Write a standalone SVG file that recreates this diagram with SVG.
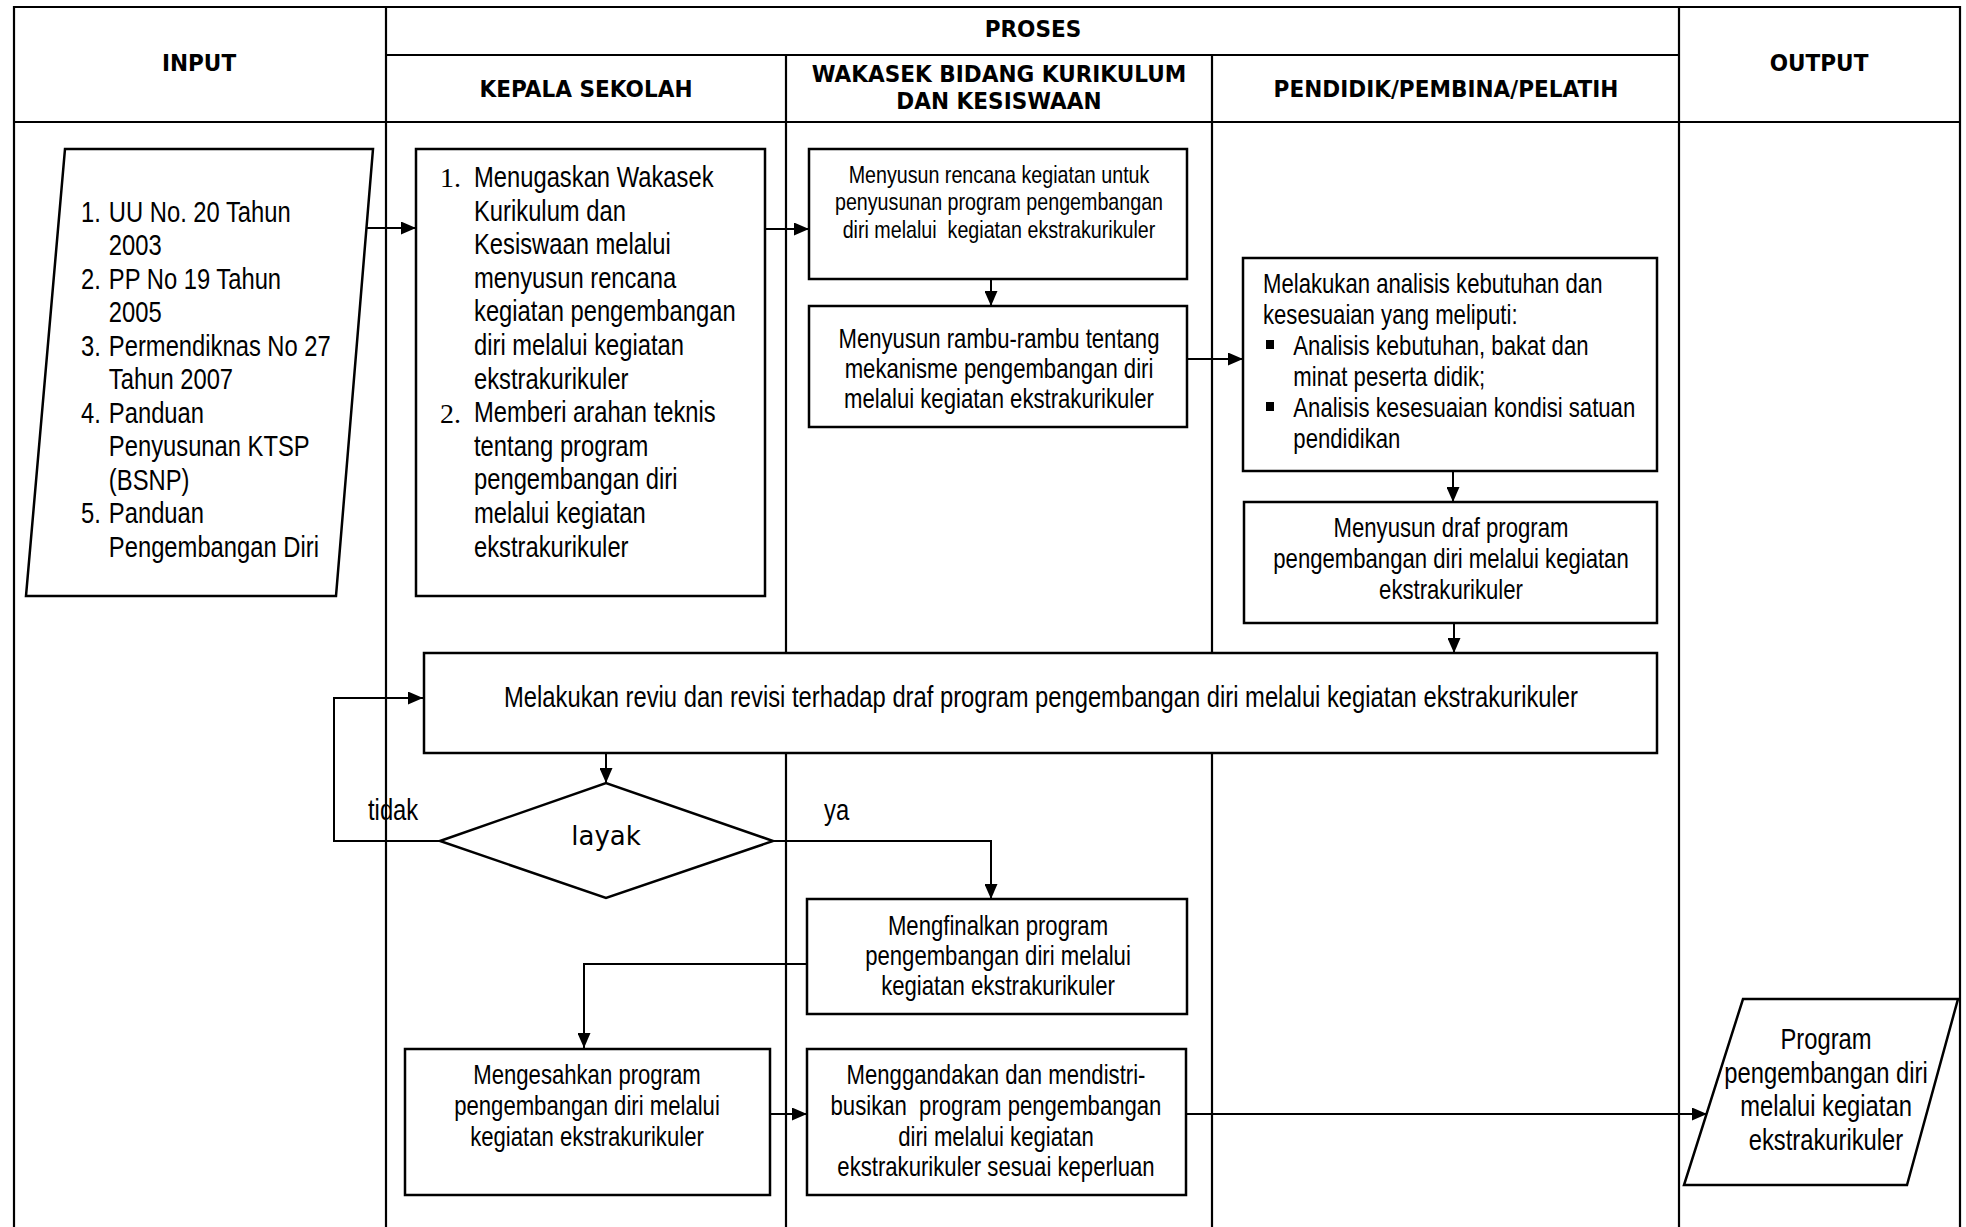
<svg xmlns="http://www.w3.org/2000/svg" width="1966" height="1227" viewBox="0 0 1966 1227">
<style>
.n{font-family:"Liberation Sans",Arial,sans-serif;fill:#000}
.c{text-anchor:middle}
.pre{white-space:pre}
.f29{font-size:29px}.f27{font-size:27px}.f24{font-size:24px}
.h{font-family:"DejaVu Sans",Verdana,sans-serif;font-weight:bold;font-size:23.5px;text-anchor:middle;fill:#000}
.num{font-family:"Liberation Serif","Times New Roman",serif;font-size:28px;fill:#000}
.box{fill:#fff;stroke:#000;stroke-width:2.5}
.tl{stroke:#000;stroke-width:2.2;fill:none}
.conn{stroke:#000;stroke-width:2;fill:none}
</style>
<defs>
<marker id="ah" viewBox="0 0 15 13" refX="15" refY="6.5" markerWidth="15" markerHeight="13" orient="auto" markerUnits="userSpaceOnUse"><path d="M0,0 L15,6.5 L0,13 z" fill="#000"/></marker>
</defs>
<rect width="1966" height="1227" fill="#fff"/>
<g id="table">
<line class="tl" x1="14" y1="7" x2="1960" y2="7" stroke-width="2.5"/>
<line class="tl" x1="14" y1="6" x2="14" y2="1227" stroke-width="2.5"/>
<line class="tl" x1="1960" y1="6" x2="1960" y2="1227" stroke-width="2.5"/>
<line class="tl" x1="386" y1="7" x2="386" y2="1227"/>
<line class="tl" x1="1679" y1="7" x2="1679" y2="1227"/>
<line class="tl" x1="786" y1="55" x2="786" y2="1227"/>
<line class="tl" x1="1212" y1="55" x2="1212" y2="1227"/>
<line class="tl" x1="386" y1="55" x2="1679" y2="55" stroke-width="2.5"/>
<line class="tl" x1="14" y1="122" x2="1960" y2="122" stroke-width="5"/>
<g transform="translate(1033,0) scale(0.92,1)"><text class="h" x="0" y="37">PROSES</text></g>
<g transform="translate(199,0) scale(0.92,1)"><text class="h" x="0" y="71">INPUT</text></g>
<g transform="translate(1819,0) scale(0.92,1)"><text class="h" x="0" y="71">OUTPUT</text></g>
<g transform="translate(586,0) scale(0.92,1)"><text class="h" x="0" y="97">KEPALA SEKOLAH</text></g>
<g transform="translate(999,0) scale(0.92,1)"><text class="h" x="0" y="82">WAKASEK BIDANG KURIKULUM</text>
<text class="h" x="0" y="109">DAN KESISWAAN</text></g>
<g transform="translate(1446,0) scale(0.92,1)"><text class="h" x="0" y="97">PENDIDIK/PEMBINA/PELATIH</text></g>
</g>
<g id="connectors">
<line class="conn" x1="366" y1="228" x2="416" y2="228" marker-end="url(#ah)"/>
<line class="conn" x1="765" y1="229" x2="809" y2="229" marker-end="url(#ah)"/>
<line class="conn" x1="991" y1="279" x2="991" y2="306" marker-end="url(#ah)"/>
<line class="conn" x1="1187" y1="359" x2="1243" y2="359" marker-end="url(#ah)"/>
<line class="conn" x1="1453" y1="471" x2="1453" y2="502" marker-end="url(#ah)"/>
<line class="conn" x1="1454" y1="623" x2="1454" y2="653" marker-end="url(#ah)"/>
<line class="conn" x1="606" y1="753" x2="606" y2="783" marker-end="url(#ah)"/>
<polyline class="conn" points="440,841 334,841 334,698 423,698" marker-end="url(#ah)"/>
<polyline class="conn" points="773,841 991,841 991,899" marker-end="url(#ah)"/>
<polyline class="conn" points="806,964 584,964 584,1048" marker-end="url(#ah)"/>
<line class="conn" x1="770" y1="1114" x2="807" y2="1114" marker-end="url(#ah)"/>
<line class="conn" x1="1186" y1="1114" x2="1707" y2="1114" marker-end="url(#ah)"/>
<g transform="translate(368,0) scale(0.82,1)"><text class="n f29" x="0" y="820">tidak</text></g>
<g transform="translate(824,0) scale(0.82,1)"><text class="n f29" x="0" y="820">ya</text></g>
</g>
<g id="input">
<polygon class="box" stroke-width="2" points="65,149 373,149 336,596 26,596"/>
<g transform="translate(81,0) scale(0.82,1)" class="n f29">
<text x="0" y="222">1.</text><text x="34" y="222">UU No. 20 Tahun</text>
<text x="34" y="255.5">2003</text>
<text x="0" y="289">2.</text><text x="34" y="289">PP No 19 Tahun</text>
<text x="34" y="322.5">2005</text>
<text x="0" y="356">3.</text><text x="34" y="356">Permendiknas No 27</text>
<text x="34" y="389.5">Tahun 2007</text>
<text x="0" y="423">4.</text><text x="34" y="423">Panduan</text>
<text x="34" y="456.5">Penyusunan KTSP</text>
<text x="34" y="490">(BSNP)</text>
<text x="0" y="523.5">5.</text><text x="34" y="523.5">Panduan</text>
<text x="34" y="557">Pengembangan Diri</text>
</g>
</g>
<g id="kepala">
<rect class="box" x="416" y="149" width="349" height="447"/>
<text class="num" x="440" y="187">1.</text>
<text class="num" x="440" y="423">2.</text>
<g transform="translate(474,0) scale(0.82,1)" class="n f29">
<text x="0" y="187">Menugaskan Wakasek</text>
<text x="0" y="220.6">Kurikulum dan</text>
<text x="0" y="254.2">Kesiswaan melalui</text>
<text x="0" y="287.8">menyusun rencana</text>
<text x="0" y="321.4">kegiatan pengembangan</text>
<text x="0" y="355">diri melalui kegiatan</text>
<text x="0" y="388.6">ekstrakurikuler</text>
<text x="0" y="422.2">Memberi arahan teknis</text>
<text x="0" y="455.8">tentang program</text>
<text x="0" y="489.4">pengembangan diri</text>
<text x="0" y="523">melalui kegiatan</text>
<text x="0" y="556.6">ekstrakurikuler</text>
</g>
</g>
<g id="wakasek1">
<rect class="box" x="809" y="149" width="378" height="130"/>
<g transform="translate(999,0) scale(0.82,1)" class="n f24 c">
<text x="0" y="183">Menyusun rencana kegiatan untuk</text>
<text x="0" y="210.5">penyusunan program pengembangan</text>
<text class="pre" x="0" y="238">diri melalui  kegiatan ekstrakurikuler</text>
</g>
</g>
<g id="wakasek2">
<rect class="box" x="809" y="306" width="378" height="121"/>
<g transform="translate(999,0) scale(0.82,1)" class="n f27 c">
<text x="0" y="348">Menyusun rambu-rambu tentang</text>
<text x="0" y="378">mekanisme pengembangan diri</text>
<text x="0" y="408">melalui kegiatan ekstrakurikuler</text>
</g>
</g>
<g id="pendidik1">
<rect class="box" x="1243" y="258" width="414" height="213"/>
<rect x="1266" y="340" width="8" height="9" fill="#000"/>
<rect x="1266" y="402" width="8" height="9" fill="#000"/>
<g transform="translate(1263,0) scale(0.82,1)" class="n f27">
<text x="0" y="293">Melakukan analisis kebutuhan dan</text>
<text x="0" y="324">kesesuaian yang meliputi:</text>
<text x="37" y="355">Analisis kebutuhan, bakat dan</text>
<text x="37" y="386">minat peserta didik;</text>
<text x="37" y="417">Analisis kesesuaian kondisi satuan</text>
<text x="37" y="448">pendidikan</text>
</g>
</g>
<g id="pendidik2">
<rect class="box" x="1244" y="502" width="413" height="121"/>
<g transform="translate(1451,0) scale(0.82,1)" class="n f27 c">
<text x="0" y="537">Menyusun draf program</text>
<text x="0" y="568">pengembangan diri melalui kegiatan</text>
<text x="0" y="599">ekstrakurikuler</text>
</g>
</g>
<g id="reviu">
<rect class="box" x="424" y="653" width="1233" height="100"/>
<g transform="translate(1041,0) scale(0.82,1)" class="n f29 c">
<text x="0" y="707">Melakukan reviu dan revisi terhadap draf program pengembangan diri melalui kegiatan ekstrakurikuler</text>
</g>
</g>
<g id="layak">
<polygon class="box" stroke-width="2" points="440,841 606,783 773,841 606,898"/>
<text x="606" y="845" font-family="'DejaVu Sans',Verdana,sans-serif" font-size="26" text-anchor="middle">layak</text>
</g>
<g id="mengfinalkan">
<rect class="box" x="807" y="899" width="380" height="115"/>
<g transform="translate(998,0) scale(0.82,1)" class="n f27 c">
<text x="0" y="935">Mengfinalkan program</text>
<text x="0" y="965">pengembangan diri melalui</text>
<text x="0" y="995">kegiatan ekstrakurikuler</text>
</g>
</g>
<g id="mengesahkan">
<rect class="box" x="405" y="1049" width="365" height="146"/>
<g transform="translate(587,0) scale(0.82,1)" class="n f27 c">
<text x="0" y="1084">Mengesahkan program</text>
<text x="0" y="1115">pengembangan diri melalui</text>
<text x="0" y="1146">kegiatan ekstrakurikuler</text>
</g>
</g>
<g id="menggandakan">
<rect class="box" x="807" y="1049" width="379" height="146"/>
<g transform="translate(996,0) scale(0.82,1)" class="n f27 c">
<text x="0" y="1084">Menggandakan dan mendistri-</text>
<text class="pre" x="0" y="1115">busikan  program pengembangan</text>
<text x="0" y="1146">diri melalui kegiatan</text>
<text x="0" y="1176">ekstrakurikuler sesuai keperluan</text>
</g>
</g>
<g id="output">
<polygon class="box" stroke-width="2" points="1743,999 1958,999 1907,1185 1684,1185"/>
<g transform="translate(1826,0) scale(0.82,1)" class="n f29 c">
<text x="0" y="1049">Program</text>
<text x="0" y="1083">pengembangan diri</text>
<text x="0" y="1116">melalui kegiatan</text>
<text x="0" y="1150">ekstrakurikuler</text>
</g>
</g>
</svg>
